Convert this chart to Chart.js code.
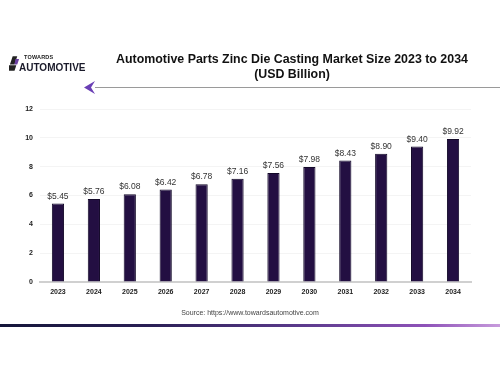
<!DOCTYPE html>
<html><head><meta charset="utf-8">
<script src="https://cdn.jsdelivr.net/npm/chart.js@4"></script>
<style>
html,body{margin:0;padding:0;background:#fff;width:500px;height:372px;overflow:hidden;font-family:"Liberation Sans",Arial,sans-serif;}
#wrap{position:relative;width:500px;height:372px;}
canvas{position:absolute;left:0;top:0;}
.title{position:absolute;left:92px;width:400px;top:52px;text-align:center;font-weight:bold;font-size:12.4px;line-height:15px;color:#111;white-space:nowrap;}
.logo1{position:absolute;left:24px;top:54px;font-weight:900;font-size:5.5px;color:#222;letter-spacing:0.2px;}
.logo2{position:absolute;left:19px;top:61.5px;font-weight:900;font-size:10px;color:#1a1a2a;letter-spacing:0px;}
.logoicon{position:absolute;left:9px;top:56px;width:11px;height:15px;}
.hline{position:absolute;left:95px;top:87px;width:405px;height:1px;background:#9a9a9a;}
.arrow{position:absolute;left:84px;top:81px;}
.source{position:absolute;left:0;width:500px;top:309px;text-align:center;font-size:7px;color:#444;}
.grad{position:absolute;left:0;top:324px;width:500px;height:3px;background:linear-gradient(90deg,#15163a 0%,#2a1f55 30%,#5b3a8c 60%,#8e52b8 85%,#c79bdc 100%);}
</style></head>
<body><div id="wrap">
<canvas id="c" width="500" height="372"></canvas>
<svg class="logoicon" viewBox="0 0 12 16"><polygon points="4,0 9,0 6,9 1,9" fill="#222"/><polygon points="0,10 8,10 6,16 0,16" fill="#222"/><polygon points="7,3 11,3 9,9 6,9" fill="#6a3fa0"/></svg>
<div class="logo1">TOWARDS</div>
<div class="logo2">AUTOMOTIVE</div>
<div class="title">Automotive Parts Zinc Die Casting Market Size 2023 to 2034<br>(USD Billion)</div>
<svg class="arrow" width="14" height="13" viewBox="0 0 14 13"><polygon points="0,6.5 11,0 7,6.5 11,13" fill="#6a3fb5"/></svg>
<div class="hline"></div>
<div class="source">Source: https://www.towardsautomotive.com</div>
<div class="grad"></div>
</div>
<script>
const categories = ["2023","2024","2025","2026","2027","2028","2029","2030","2031","2032","2033","2034"];
const marketSize = [5.45,5.76,6.08,6.42,6.78,7.16,7.56,7.98,8.43,8.90,9.40,9.92];
const valueLabels = ["$5.45","$5.76","$6.08","$6.42","$6.78","$7.16","$7.56","$7.98","$8.43","$8.90","$9.40","$9.92"];
const yTicks = [0,2,4,6,8,10,12];

const labelPlugin = {
  id:'barLabels',
  afterDatasetsDraw(chart){
    const ctx = chart.ctx;
    const meta = chart.getDatasetMeta(0);
    ctx.save();
    ctx.font = '8.5px "Liberation Sans", Arial, sans-serif';
    ctx.fillStyle = '#333';
    ctx.textAlign = 'center';
    ctx.textBaseline = 'bottom';
    meta.data.forEach((bar,i)=>{
      ctx.fillText(valueLabels[i], bar.x, bar.y - 3);
    });
    ctx.restore();
  }
};

new Chart(document.getElementById('c'), {
  type:'bar',
  data:{
    labels: categories,
    datasets:[{
      data: marketSize,
      backgroundColor:'#230f42',
      borderColor:'#120828',
      borderWidth:1,
      barPercentage:0.34,
      categoryPercentage:1
    }]
  },
  options:{
    responsive:false,
    animation:false,
    devicePixelRatio:1,
    layout:{padding:{left:0,right:29,top:109,bottom:70}},
    plugins:{legend:{display:false},tooltip:{enabled:false}},
    scales:{
      x:{
        grid:{display:false,drawTicks:false},
        border:{display:true,color:'#d0d0d0',width:2},
        ticks:{font:{family:'"Liberation Sans", Arial, sans-serif',size:7,weight:'bold'},color:'#222',padding:6,maxRotation:0},
        afterFit(s){s.height=20;}
      },
      y:{
        min:0,max:12,
        afterBuildTicks(s){s.ticks = yTicks.map(v=>({value:v}));},
        grid:{color:'#f4f4f4',drawTicks:false},
        border:{display:false},
        ticks:{font:{family:'"Liberation Sans", Arial, sans-serif',size:7,weight:'bold'},color:'#222',padding:7},
        afterFit(s){s.width=40;}
      }
    }
  },
  plugins:[labelPlugin]
});
</script>
</body></html>
